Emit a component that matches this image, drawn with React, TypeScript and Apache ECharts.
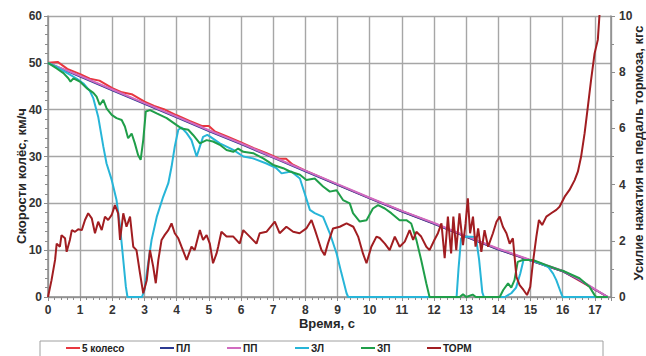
import React, { useEffect, useRef } from "react";
import * as echarts from "echarts";

const xTicks = [0, 17.5];
const speedAxis = [0, 60];
const forceAxis = [0, 10];

const seriesNames = ["5 колесо", "ПЛ", "ПП", "ЗЛ", "ЗП", "ТОРМ"];

const wheel5: [number, number][] = [
  [0, 50], [0.3, 50.2], [0.6, 48.7], [1.0, 47.6], [1.3, 46.6], [1.6, 46.2], [2.0, 44.6], [2.3, 43.7],
  [2.6, 43.3], [3.0, 41.7], [3.3, 40.8], [3.6, 40.1], [4.0, 38.8], [4.4, 37.6], [4.8, 36.5], [5.0, 36.5],
  [5.2, 35.3], [5.6, 34.2], [6.0, 33.0], [6.4, 31.8], [6.8, 30.7], [7.2, 29.5], [7.4, 29.5], [7.6, 28.3],
  [8.0, 27.0], [9, 24.0], [10, 21.1], [11, 18.3], [12, 15.7], [13, 12.9], [14, 10.2], [15, 7.8],
  [16, 5.5], [17, 1.6], [17.4, 0],
];

const frontLeft: [number, number][] = [
  [0, 50], [1, 47.05], [2, 44.15], [3, 41.25], [4, 38.35], [5, 35.45], [6, 32.65], [7, 29.75], [8, 26.85],
  [9, 23.95], [10, 21.05], [11, 18.25], [12, 15.65], [13, 12.85], [14, 10.15], [15, 7.8], [16, 5.5],
  [16.5, 3.7], [17, 1.6], [17.4, 0],
];

const frontRight: [number, number][] = [
  [0, 50], [1, 47.2], [2, 44.3], [3, 41.4], [4, 38.5], [5, 35.6], [6, 32.8], [7, 29.9], [8, 27.0],
  [9, 24.1], [10, 21.2], [11, 18.4], [12, 15.8], [13, 13.0], [14, 10.3], [15, 7.9], [16, 5.6],
  [16.5, 3.8], [17, 1.7], [17.4, 0],
];

const rearLeft: [number, number][] = [
  [0, 50], [0.3, 49.0], [0.6, 47.8], [0.9, 46.6], [1.1, 45.6], [1.3, 44.0], [1.41, 42.4], [1.56, 38.5],
  [1.72, 32.1], [1.82, 28.5], [1.98, 25.0], [2.13, 20.7], [2.24, 15.0], [2.34, 7.9], [2.42, 2.2],
  [2.47, 0], [2.92, 0], [3.0, 1.5], [3.07, 5.1], [3.22, 12.2], [3.38, 17.1], [3.58, 21.4], [3.74, 24.3],
  [3.84, 27.8], [3.94, 32.1], [4.05, 35.7], [4.15, 36.2], [4.31, 35.0], [4.46, 33.5], [4.62, 30.0],
  [4.72, 32.1], [4.82, 34.2], [4.95, 34.6], [5.05, 34.2], [5.34, 32.8], [5.76, 31.4], [6.07, 30.0],
  [6.37, 29.6], [6.79, 28.5], [7.1, 27.5], [7.26, 26.4], [7.56, 26.8], [7.83, 25.3], [7.98, 22.1],
  [8.14, 18.6], [8.29, 17.9], [8.55, 17.1], [8.76, 13.6], [8.97, 9.3], [9.12, 5.1], [9.28, 0.8],
  [9.33, 0], [12.7, 0], [12.76, 6], [12.84, 12.5], [12.95, 12.9], [13.3, 12.8], [13.4, 8], [13.5, 1],
  [13.55, 0], [14.2, 0], [14.4, 0.8], [14.55, 2], [14.68, 5], [14.78, 7.9], [15.0, 7.9], [15.3, 7.2],
  [15.55, 6.4], [15.7, 5], [15.8, 3.6], [15.95, 0.8], [16.0, 0], [17.4, 0],
];

const rearRight: [number, number][] = [
  [0, 50], [0.27, 48.8], [0.48, 47.8], [0.63, 46.7], [0.7, 46.0], [0.79, 46.7], [0.99, 46.0], [1.2, 44.6],
  [1.41, 43.6], [1.51, 42.8], [1.61, 41.0], [1.72, 42.1], [1.82, 40.3], [1.98, 38.9], [2.13, 38.2],
  [2.29, 37.8], [2.39, 36.4], [2.49, 33.9], [2.6, 34.9], [2.7, 32.8], [2.8, 30.3], [2.88, 29.3],
  [2.96, 33.5], [3.04, 39.6], [3.17, 39.9], [3.38, 39.2], [3.69, 38.2], [4.0, 36.7], [4.15, 36.0],
  [4.36, 35.7], [4.51, 34.6], [4.72, 32.8], [4.93, 33.5], [5.13, 33.2], [5.34, 32.5], [5.55, 31.4],
  [5.76, 31.0], [5.91, 31.7], [6.07, 31.0], [6.38, 30.7], [6.69, 29.6], [7.0, 28.2], [7.31, 27.5],
  [7.52, 26.8], [7.83, 26.1], [8.03, 25.0], [8.29, 25.3], [8.55, 23.6], [8.76, 22.5], [8.97, 22.8],
  [9.17, 20.7], [9.38, 20.0], [9.48, 17.9], [9.69, 16.1], [9.9, 16.4], [10.1, 18.9], [10.26, 19.6],
  [10.47, 18.9], [10.67, 17.9], [10.93, 16.4], [11.14, 16.4], [11.29, 15.7], [11.45, 12.2], [11.6, 7.9],
  [11.76, 2.9], [11.86, 0], [12.8, 0], [12.9, 0.6], [13.0, 0], [13.2, 0.5], [13.3, 0], [14.04, 0],
  [14.15, 1.5], [14.3, 2.9], [14.4, 2.0], [14.5, 3.6], [14.6, 7.5], [14.76, 7.9], [15.07, 7.9],
  [15.49, 6.8], [15.9, 5.8], [16.0, 5.6], [16.52, 4.0], [16.83, 2.2], [16.99, 0.4], [17.04, 0], [17.4, 0],
];

const brakeForce: [number, number][] = [
  [0, 0], [0.11, 0.6], [0.22, 1.32], [0.27, 1.9], [0.37, 1.79], [0.42, 2.2], [0.53, 2.09], [0.58, 1.61],
  [0.68, 2.03], [0.74, 2.38], [0.84, 2.32], [0.94, 2.41], [1.05, 2.38], [1.15, 2.74], [1.25, 2.98],
  [1.36, 2.8], [1.46, 2.27], [1.56, 2.68], [1.67, 2.38], [1.77, 2.86], [1.87, 2.74], [1.98, 2.92],
  [2.08, 3.27], [2.18, 2.98], [2.24, 2.03], [2.34, 2.98], [2.44, 2.5], [2.55, 2.86], [2.65, 1.79],
  [2.75, 1.67], [2.86, 0.84], [2.96, 0.13], [3.07, 0.6], [3.17, 1.67], [3.27, 1.08], [3.35, 0.49],
  [3.43, 1.32], [3.53, 2.03], [3.63, 2.21], [3.74, 2.38], [3.84, 2.62], [3.94, 2.27], [4.05, 2.09],
  [4.15, 1.79], [4.31, 1.32], [4.46, 1.79], [4.56, 1.67], [4.72, 2.38], [4.82, 2.03], [4.93, 2.2],
  [5.03, 1.9], [5.13, 1.2], [5.24, 1.55], [5.29, 1.79], [5.39, 2.32], [5.55, 2.15], [5.76, 2.15],
  [5.96, 1.9], [6.07, 2.38], [6.27, 2.15], [6.48, 1.9], [6.58, 2.27], [6.79, 2.32], [7.05, 2.68],
  [7.2, 2.27], [7.41, 2.5], [7.62, 2.32], [7.82, 2.27], [8.03, 2.44], [8.19, 2.74], [8.3, 2.38],
  [8.4, 2.03], [8.5, 1.67], [8.6, 1.49], [8.7, 1.9], [8.86, 2.44], [9.07, 2.5], [9.28, 2.62],
  [9.49, 2.5], [9.64, 2.15], [9.79, 1.55], [9.9, 1.2], [10.05, 1.79], [10.21, 2.15], [10.31, 2.1],
  [10.47, 1.9], [10.62, 1.67], [10.78, 2.15], [10.93, 1.79], [11.09, 1.97], [11.24, 2.38], [11.35, 2.03],
  [11.45, 2.32], [11.6, 2.15], [11.76, 1.79], [11.86, 1.67], [12.01, 2.03], [12.12, 2.27], [12.23, 2.62],
  [12.33, 1.38], [12.43, 2.86], [12.53, 1.55], [12.6, 2.86], [12.69, 1.67], [12.79, 2.98], [12.9, 1.85],
  [12.98, 2.62], [13.05, 3.51], [13.12, 2.27], [13.21, 2.86], [13.29, 1.79], [13.37, 2.44], [13.47, 1.61],
  [13.57, 2.38], [13.68, 1.79], [13.83, 2.27], [13.94, 2.68], [14.04, 2.86], [14.14, 2.5], [14.25, 2.27],
  [14.35, 1.9], [14.45, 2.09], [14.56, 0.72], [14.66, 0.42], [14.78, 0.25], [14.89, 0.07], [14.99, 0.36],
  [15.07, 1.2], [15.18, 2.15], [15.26, 2.74], [15.36, 2.56], [15.49, 2.86], [15.64, 2.98], [15.8, 3.1],
  [15.9, 3.21], [16.06, 3.57], [16.21, 3.81], [16.37, 4.16], [16.47, 4.46], [16.57, 4.99], [16.68, 5.83],
  [16.78, 6.77], [16.88, 7.72], [16.99, 8.67], [17.09, 9.15], [17.14, 10], [17.2, 10.6],
];

const colors = ["#e8373f", "#2b3990", "#d16bc0", "#27b5d8", "#1f9e49", "#a11d21"];
const legendLeft = [66, 160, 227, 295, 361, 427];

const FONT = "Liberation Sans, Arial, sans-serif";
const GRID_LINE = "#a6a6a6";
const AXIS_LINE = "#8c8c8c";

export default function App() {
  const ref = useRef<HTMLDivElement>(null);
  useEffect(() => {
    if (!ref.current) return;
    const chart = echarts.init(ref.current, undefined, { renderer: "svg" });
    const allData = [wheel5, frontLeft, frontRight, rearLeft, rearRight, brakeForce];
    const labelStyle = { fontFamily: FONT, fontWeight: "bold" as const, fontSize: 12, color: "#333" };
    chart.setOption({
      animation: false,
      backgroundColor: "#fff",
      grid: { left: 48, top: 16, width: 563, height: 281, containLabel: false },
      xAxis: {
        type: "value",
        min: xTicks[0],
        max: xTicks[1],
        interval: 1,
        axisLine: { show: true, lineStyle: { color: AXIS_LINE, width: 1.5 } },
        axisTick: { show: true, length: 4, lineStyle: { color: AXIS_LINE } },
        minorTick: { show: true, splitNumber: 5, length: 3, lineStyle: { color: AXIS_LINE } },
        axisLabel: { ...labelStyle, margin: 7, showMaxLabel: false },
        splitLine: { show: true, lineStyle: { color: GRID_LINE, width: 1.4 } },
      },
      yAxis: [
        {
          type: "value",
          min: speedAxis[0],
          max: speedAxis[1],
          interval: 10,
          axisLine: { show: true, lineStyle: { color: AXIS_LINE, width: 1.5 } },
          axisTick: { show: true, length: 4, lineStyle: { color: AXIS_LINE } },
          minorTick: { show: true, splitNumber: 5, length: 3, lineStyle: { color: AXIS_LINE } },
          axisLabel: { ...labelStyle, margin: 6 },
          splitLine: { show: true, lineStyle: { color: GRID_LINE, width: 1.4 } },
        },
        {
          type: "value",
          min: forceAxis[0],
          max: forceAxis[1],
          interval: 2,
          position: "right",
          axisLine: { show: true, lineStyle: { color: AXIS_LINE, width: 1.5 } },
          axisTick: { show: true, length: 4, lineStyle: { color: AXIS_LINE } },
          minorTick: { show: true, splitNumber: 2, length: 3, lineStyle: { color: AXIS_LINE } },
          axisLabel: { ...labelStyle, margin: 8 },
          splitLine: { show: false },
        },
      ],
      legend: seriesNames.map((n, i) => ({
        data: [n],
        left: legendLeft[i],
        top: 343,
        padding: 0,
        icon: "rect",
        itemWidth: 14,
        itemHeight: 2,
        itemGap: 2,
        textStyle: { fontFamily: FONT, fontWeight: "bold", fontSize: 10, color: "#222", padding: [0, 0, 0, -3] },
      })),
      graphic: [
        {
          type: "rect",
          shape: { x: 40, y: 341, width: 563, height: 22 },
          style: { fill: "none", stroke: "#a0a0a0", lineWidth: 1 },
          z: -1,
        },
        {
          type: "text",
          x: 21,
          y: 176,
          rotation: Math.PI / 2,
          style: {
            text: "Скорости колёс, км/ч",
            fontFamily: FONT,
            fontWeight: "bold",
            fontSize: 13,
            fill: "#262626",
            align: "center",
            verticalAlign: "middle",
          },
        },
        {
          type: "text",
          x: 638,
          y: 153,
          rotation: Math.PI / 2,
          style: {
            text: "Усилие нажатия на педаль тормоза, кгс",
            fontFamily: FONT,
            fontWeight: "bold",
            fontSize: 13,
            fill: "#262626",
            align: "center",
            verticalAlign: "middle",
          },
        },
        {
          type: "text",
          x: 327,
          y: 323,
          style: {
            text: "Время, с",
            fontFamily: FONT,
            fontWeight: "bold",
            fontSize: 13,
            fill: "#262626",
            align: "center",
            verticalAlign: "middle",
          },
        },
      ],
      series: seriesNames.map((n, i) => ({
        name: n,
        type: "line",
        yAxisIndex: i === 5 ? 1 : 0,
        data: allData[i],
        symbol: "none",
        showSymbol: false,
        clip: true,
        color: colors[i],
        lineStyle: { color: colors[i], width: 2 },
      })),
    });
    return () => chart.dispose();
  }, []);
  return (
    <div
      ref={ref}
      style={{ position: "absolute", left: 0, top: 0, width: 646, height: 356 }}
    />
  );
}
